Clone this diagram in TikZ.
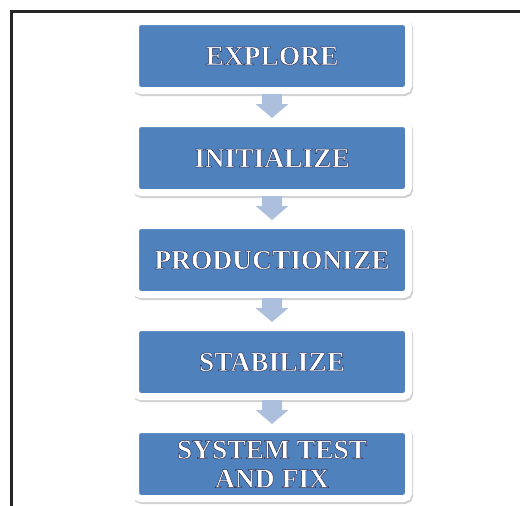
\documentclass[tikz,border=0pt]{standalone}
\usepackage{fontspec}
\setmainfont{Liberation Serif}
\usetikzlibrary{arrows.meta}
\definecolor{boxblue}{RGB}{79,129,189}
\definecolor{arrowfill}{RGB}{172,191,221}
\newcommand{\embossed}[1]{\special{pdf:literal 2 Tr 0.45 w 0.15 0.16 0.32 RG}#1\special{pdf:literal 0 Tr}}
\tikzset{
  stagebox/.style={rectangle, rounded corners=5pt, fill=boxblue, draw=white,
    line width=7pt, minimum width=273pt, minimum height=69pt, align=center,
    text=white, font=\bfseries\fontsize{27.5}{29}\selectfont,
    preaction={draw=black!18, fill=black!18, transform canvas={shift={(1.2pt,-2pt)}}}},
  flowarrow/.style={draw, arrowfill, line width=20pt,
    -{Triangle[width=32pt, length=14pt]}, shorten >=2pt},
  frameline/.style={draw=black!85, line width=3pt}
}
\begin{document}
\begin{tikzpicture}[x=1pt, y=-1pt, level distance=102pt,
  every node/.style={stagebox},
  edge from parent/.style={flowarrow}]
  \useasboundingbox (0,0) rectangle (520,506);
  \draw[frameline] (11,560) -- (11,11) -- (560,11);
  \node (explore) at (272,56) {\embossed{EXPLORE}}
    child {node (initialize) {\embossed{INITIALIZE}}
      child {node (productionize) {\embossed{PRODUCTIONIZE}}
        child {node (stabilize) {\embossed{STABILIZE}}
          child {node (systemtest) {\embossed{SYSTEM TEST}\\\embossed{AND FIX}}}
        }
      }
    };
\end{tikzpicture}
\end{document}
